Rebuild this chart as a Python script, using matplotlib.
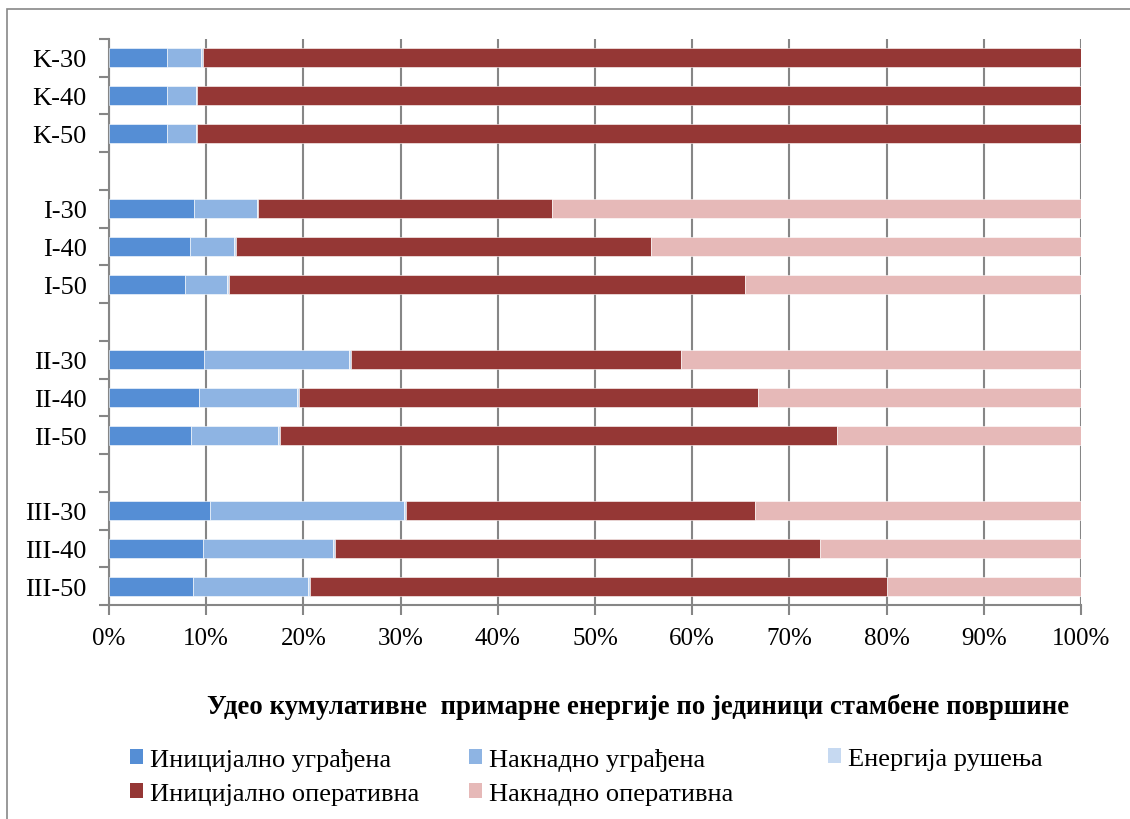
import matplotlib
matplotlib.use("Agg")
import matplotlib.pyplot as plt
import numpy as np
from matplotlib.patches import Rectangle, Patch

plt.rcParams['font.family'] = ['Liberation Serif', 'DejaVu Serif']

groups = ['K', 'I', 'II', 'III']
variants = ['30', '40', '50']
categories = [f"{g}-{v}" for g in groups for v in variants]

series_names = ['Иницијално уграђена', 'Накнадно уграђена', 'Енергија рушења',
                'Иницијално оперативна', 'Накнадно оперативна']
colors = ['#558ED5', '#8EB4E3', '#C6D9F1', '#953735', '#E6B9B8']

init_embodied = [6.0, 6.0, 6.0, 8.75, 8.3, 7.8, 9.8, 9.3, 8.4, 10.4, 9.7, 8.6]
recur_embodied = [3.5, 2.9, 2.9, 6.45, 4.6, 4.3, 14.9, 10.0, 9.0, 20.0, 13.3, 11.9]
demolition = [0.2, 0.2, 0.2, 0.15, 0.2, 0.2, 0.2, 0.2, 0.2, 0.2, 0.2, 0.2]
init_operational = [90.3, 90.9, 90.9, 30.25, 42.7, 53.1, 33.9, 47.3, 57.3, 35.9, 49.9, 59.3]
recur_operational = [0.0, 0.0, 0.0, 54.4, 44.2, 34.6, 41.2, 33.2, 25.1, 33.5, 26.9, 20.0]

title = 'Удео кумулативне  примарне енергије по јединици стамбене површине'

data = np.array([init_embodied, recur_embodied, demolition, init_operational, recur_operational])
data = data / data.sum(axis=0) * 100

# slot positions with a blank slot between groups
positions = np.array([gi * (len(variants) + 1) + vi for gi in range(len(groups)) for vi in range(len(variants))])
n_slots = len(groups) * (len(variants) + 1) - 1

W, H = 1130, 820
fig = plt.figure(figsize=(W / 100, H / 100), dpi=100)
ax = fig.add_axes([109 / W, 1 - 606 / H, (1081 - 109) / W, (606 - 40) / H])

grid_c = '#868686'
left = np.zeros(len(categories))
for vals, c, name in zip(data, colors, series_names):
    ax.barh(positions, vals, left=left, height=0.5, color=c, edgecolor='white',
            linewidth=0.4, label=name, zorder=3)
    left += vals

ax.set_xlim(0, 100)
ax.set_ylim(n_slots - 0.5, -0.5)
ax.set_xticks(np.arange(0, 101, 10))
ax.set_xticklabels([f"{v}%" for v in range(0, 101, 10)], fontsize=18)
ax.set_yticks(positions)
ax.set_yticklabels(categories, fontsize=19)
ax.tick_params(axis='y', which='major', length=0, pad=16)
ax.set_yticks(np.arange(-0.5, n_slots, 1.0), minor=True)
ax.tick_params(axis='y', which='minor', length=7, width=1.5, color=grid_c)
ax.tick_params(axis='x', which='major', length=7, width=1.5, color=grid_c, pad=9)
ax.grid(axis='x', color=grid_c, linewidth=1.5, zorder=0)
ax.set_axisbelow(True)
for s in ['top', 'right']:
    ax.spines[s].set_visible(False)
for s in ['left', 'bottom']:
    ax.spines[s].set_color(grid_c)
    ax.spines[s].set_linewidth(1.5)

# outer chart border
fig.patches.append(Rectangle((7 / W, -0.1), 1.2, 1 - 10 / H + 0.1, transform=fig.transFigure,
                             fill=False, edgecolor='#878787', linewidth=1.2, clip_on=False))

fig.text(638 / W, 1 - 707 / H, title, ha='center', va='center', fontsize=19.3, fontweight='bold')

handles = [Patch(facecolor=c, edgecolor='none') for c in colors]
col_x = [130, 469, 828]
columns = [[0, 3], [1, 4], [2]]
for x, idxs in zip(col_x, columns):
    fig.legend([handles[i] for i in idxs], [series_names[i] for i in idxs],
               loc='upper left', bbox_to_anchor=(x / W, 1 - 749 / H),
               frameon=False, fontsize=19, handlelength=0.5, handleheight=0.5,
               handletextpad=0.25, labelspacing=0.45, borderpad=0, borderaxespad=0)

fig.savefig('out.png', dpi=100)
